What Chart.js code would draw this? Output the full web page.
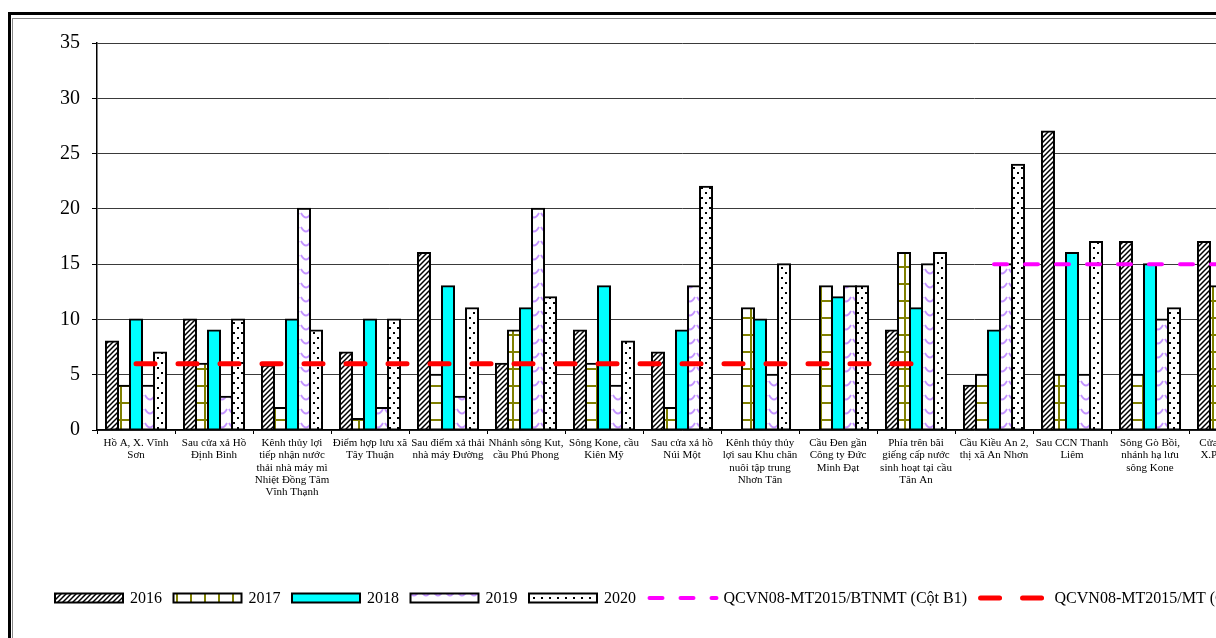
<!DOCTYPE html>
<html>
<head>
<meta charset="utf-8">
<script src="https://cdn.jsdelivr.net/npm/chart.js@4.4.1/dist/chart.umd.min.js"></script>
<style>
  body { margin: 0; overflow: hidden; background: #fff; width: 1216px; height: 638px; position: relative; }
  #frame { position: absolute; left: 8px; top: 12px; width: 1400px; height: 700px; border: 3px solid #000; }
  #inner { position: absolute; left: 12px; top: 18px; width: 1400px; height: 700px; border-left: 1px solid #888; border-top: 1px solid #888; }
  #chart { position: absolute; left: 0; top: 0; }
</style>
</head>
<body>
<div id="frame"></div>
<div id="inner"></div>
<canvas id="chart" width="1280" height="638"></canvas>
<script>
const categories = [
  ['Hồ A, X. Vĩnh', 'Sơn'],
  ['Sau cửa xả Hồ', 'Định Bình'],
  ['Kênh thủy lợi', 'tiếp nhận nước', 'thải nhà máy mì', 'Nhiệt Đồng Tâm', 'Vĩnh Thạnh'],
  ['Điểm hợp lưu xã', 'Tây Thuận'],
  ['Sau điểm xả thải', 'nhà máy Đường'],
  ['Nhánh sông Kut,', 'cầu Phú Phong'],
  ['Sông Kone, cầu', 'Kiên Mỹ'],
  ['Sau cửa xả hồ', 'Núi Một'],
  ['Kênh thủy thủy', 'lợi sau Khu chăn', 'nuôi tập trung', 'Nhơn Tân'],
  ['Cầu Đen gần', 'Công ty Đức', 'Minh Đạt'],
  ['Phía trên bãi', 'giếng cấp nước', 'sinh hoạt tại cầu', 'Tân An'],
  ['Cầu Kiều An 2,', 'thị xã An Nhơn'],
  ['Sau CCN Thanh', 'Liêm'],
  ['Sông Gò Bồi,', 'nhánh hạ lưu', 'sông Kone'],
  ['Cửa sông Hà', 'X.Phước An']
];

const v2016 = [8, 10, 5.8, 7, 16, 6, 9, 7, null, null, 9, 4, 27, 17, 17];
const v2017 = [4, 6, 2, 1, 5, 9, 6, 2, 11, 13, 16, 5, 5, 5, 13];
const v2018 = [10, 9, 10, 10, 13, 11, 13, 9, 10, 12, 11, 9, 16, 15, null];
const v2019 = [4, 3, 20, 2, 3, 20, 4, 13, 5, 13, 15, 15, 5, 10, null];
const v2020 = [7, 10, 9, 10, 11, 12, 8, 22, 15, 13, 16, 24, 17, 11, null];
const limitB1 = [null, null, null, null, null, null, null, null, null, null, null, 15, 15, 15, 15];
const limitA2 = [6, 6, 6, 6, 6, 6, 6, 6, 6, 6, 6, null, null, null, null];

const yTicks = [0, 5, 10, 15, 20, 25, 30, 35];

const SERIF = '"Liberation Serif", "Times New Roman", serif';

// pattern tiles (canvas sits at page origin so offsets line up with the picture)
function tile(w, h, draw) {
  const c = document.createElement('canvas');
  c.width = w; c.height = h;
  const g = c.getContext('2d');
  g.fillStyle = '#fff';
  g.fillRect(0, 0, w, h);
  draw(g);
  return document.getElementById('chart').getContext('2d').createPattern(c, 'repeat');
}

const hatch = tile(5, 5, g => {
  g.strokeStyle = '#000';
  g.lineWidth = 1.5;
  g.beginPath();
  g.moveTo(0, 5); g.lineTo(5, 0);
  g.moveTo(-1, 1); g.lineTo(1, -1);
  g.moveTo(4, 6); g.lineTo(6, 4);
  g.stroke();
});

const grid = tile(14, 17, g => {
  g.fillStyle = '#808000';
  g.fillRect(8, 0, 2, 17);
  g.fillRect(0, 11, 14, 2);
});

const wave = tile(12, 14, g => {
  g.strokeStyle = '#C393FF';
  g.lineWidth = 1.8;
  g.beginPath();
  g.moveTo(1, 3);
  g.quadraticCurveTo(6, 12, 11, 3);
  g.stroke();
});

const dots = tile(8, 10, g => {
  g.fillStyle = '#000';
  g.fillRect(1, 2, 2, 2);
  g.fillRect(5, 7, 2, 2);
});

function barSet(label, data, fill) {
  return {
    type: 'bar', label, data,
    backgroundColor: fill,
    borderColor: '#000',
    borderWidth: 2,
    borderSkipped: false,
    inflateAmount: 1,
    categoryPercentage: 0.77,
    barPercentage: 1,
    order: 1
  };
}

function lineSet(label, data, color, width, dash) {
  return {
    type: 'line', label, data,
    borderColor: color,
    borderWidth: width,
    borderDash: dash,
    borderCapStyle: 'round',
    pointRadius: 0,
    fill: false,
    tension: 0,
    spanGaps: false,
    order: 0
  };
}

const datasets = [
  barSet('2016', v2016, hatch),
  barSet('2017', v2017, grid),
  barSet('2018', v2018, '#00FFFF'),
  barSet('2019', v2019, wave),
  barSet('2020', v2020, dots),
  lineSet('QCVN08-MT2015/BTNMT (Cột B1)', limitB1, '#FF00FF', 4, [13, 18]),
  lineSet('QCVN08-MT2015/MT (Cột A2)', limitA2, '#FF0000', 5, [19, 23])
];

// legend drawn by hand in one row under the axis labels
const rowLegend = {
  id: 'rowLegend',
  afterDraw(chart) {
    const ctx = chart.ctx;
    const y = 598;
    let x = 55;
    ctx.save();
    ctx.font = '16px ' + SERIF;
    ctx.textBaseline = 'middle';
    chart.data.datasets.forEach(ds => {
      if (ds.type === 'bar') {
        ctx.fillStyle = ds.backgroundColor;
        ctx.fillRect(x, y - 4.5, 68, 9);
        ctx.strokeStyle = '#000';
        ctx.lineWidth = 2;
        ctx.setLineDash([]);
        ctx.strokeRect(x, y - 4.5, 68, 9);
        x += 68 + 7;
      } else {
        ctx.strokeStyle = ds.borderColor;
        ctx.lineWidth = ds.borderWidth;
        ctx.lineCap = 'round';
        ctx.setLineDash(ds.borderDash);
        ctx.beginPath();
        ctx.moveTo(x + 2, y);
        ctx.lineTo(x + 69, y);
        ctx.stroke();
        x += 71 + 5;
      }
      ctx.fillStyle = '#000';
      ctx.fillText(ds.label, x, y + 1);
      x += ctx.measureText(ds.label).width + 11.5;
    });
    ctx.restore();
  }
};

const config = {
  type: 'bar',
  data: { labels: categories, datasets: datasets },
  options: {
    responsive: false,
    animation: false,
    layout: { padding: { left: 0, top: 43, right: 13, bottom: 0 } },
    plugins: {
      legend: { display: false },
      tooltip: { enabled: false }
    },
    scales: {
      x: {
        afterFit(scale) { scale.height = 208; },
        grid: { display: true, drawOnChartArea: false, drawTicks: true, tickLength: 4, color: '#000' },
        border: { display: true, color: '#000', width: 1.5 },
        ticks: {
          autoSkip: false, maxRotation: 0, minRotation: 0, padding: 3, color: '#000',
          font: { family: SERIF, size: 11, lineHeight: 1.12 }
        }
      },
      y: {
        min: 0, max: 35,
        afterFit(scale) { scale.width = 97; },
        afterBuildTicks(scale) { scale.ticks = yTicks.map(v => ({ value: v })); },
        grid: { color: '#3a3a3a', lineWidth: 1, drawTicks: true, tickLength: 5, tickColor: '#000' },
        border: { display: true, color: '#000', width: 1.5 },
        ticks: { padding: 12, color: '#000', font: { family: SERIF, size: 20 } }
      }
    }
  },
  plugins: [rowLegend]
};

var ctx = document.getElementById('chart').getContext('2d');
var myChart = new Chart(ctx, config);
</script>
</body>
</html>
